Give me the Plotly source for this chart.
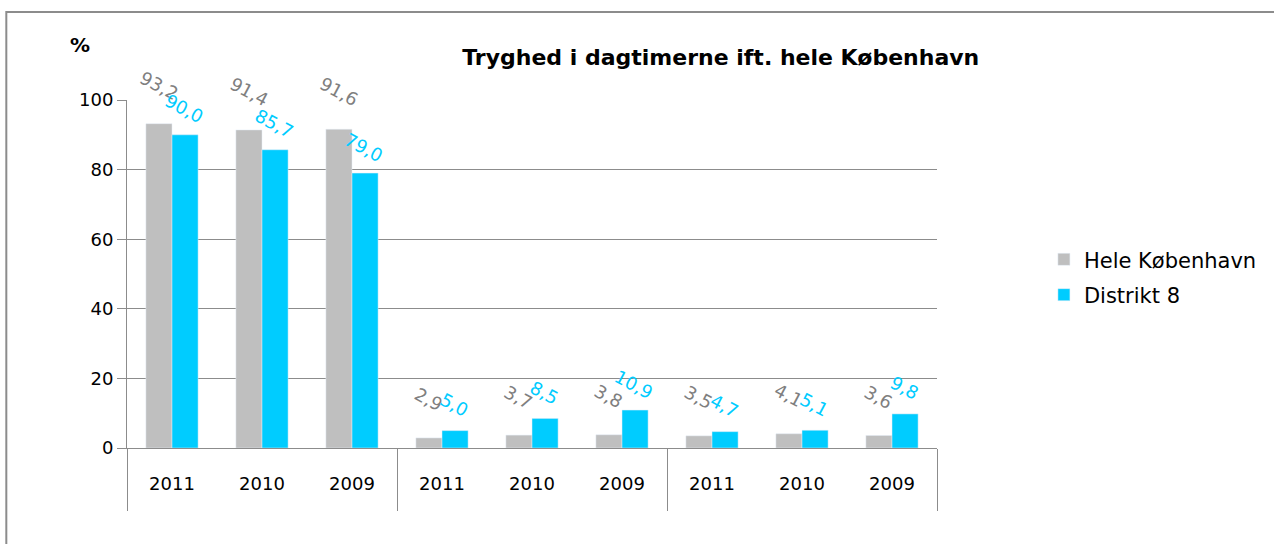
import numpy as np
import plotly.graph_objects as go

years = ['2011', '2010', '2009', '2011', '2010', '2009', '2011', '2010', '2009']
group_size = 3
hele_kbh = [93.2, 91.4, 91.6, 2.9, 3.7, 3.8, 3.5, 4.1, 3.6]
distrikt8 = [90.0, 85.7, 79.0, 5.0, 8.5, 10.9, 4.7, 5.1, 9.8]

grey = '#BFBFBF'
cyan = '#00CCFF'
line_col = '#8C8C8C'
font_name = 'DejaVu Sans'

x = np.arange(len(years))
bargap = 0.42
half = (1 - bargap) / 4  # centre offset of each bar inside a category

fig = go.Figure()
fig.add_trace(go.Bar(x=x, y=hele_kbh, name='Hele København',
                     marker_color=grey, legendgroup='a'))
fig.add_trace(go.Bar(x=x, y=distrikt8, name='Distrikt 8',
                     marker_color=cyan, legendgroup='b'))

# rotated value labels like the Excel original
for i in range(len(years)):
    fig.add_annotation(x=x[i] - half, y=hele_kbh[i], text=f'{hele_kbh[i]:.1f}'.replace('.', ','),
                       textangle=28, showarrow=False, yshift=38,
                       font=dict(family=font_name, size=18, color='#7F7F7F'))
    fig.add_annotation(x=x[i] + half, y=distrikt8[i], text=f'{distrikt8[i]:.1f}'.replace('.', ','),
                       textangle=28, showarrow=False, yshift=26, xshift=-1,
                       font=dict(family=font_name, size=18, color=cyan))

fig.add_annotation(xref='paper', yref='paper', x=-0.058, y=1.158, text='<b>%</b>',
                   xanchor='center', yanchor='middle', showarrow=False,
                   font=dict(family=font_name, size=20, color='black'))

# outer frame of the chart area
fig.add_shape(type='rect', xref='paper', yref='paper',
              x0=-0.149, x1=1.45, y0=-0.5, y1=1.253,
              line=dict(color=line_col, width=2))

group_edges = list(np.arange(0, len(years) + 1, group_size) - 0.5)

fig.update_layout(
    width=1274, height=544,
    margin=dict(l=127, r=337, t=100, b=96),
    paper_bgcolor='white', plot_bgcolor='white',
    barmode='group', bargap=bargap, bargroupgap=0,
    title=dict(text='<b>Tryghed i dagtimerne ift. hele København</b>',
               x=0.733, xref='paper', xanchor='center',
               y=1 - 57 / 544, yanchor='middle',
               font=dict(family=font_name, size=22, color='black')),
    legend=dict(x=1.132, y=0.6, xanchor='left', yanchor='top',
                font=dict(family=font_name, size=21, color='black'),
                tracegroupgap=5, bgcolor='rgba(0,0,0,0)'),
    font=dict(family=font_name, color='black'),
)
fig.update_xaxes(range=[-0.5, len(years) - 0.5],
                 tickmode='array', tickvals=x, ticktext=years, ticks='',
                 ticklabelstandoff=19,
                 tickfont=dict(family=font_name, size=18, color='black'),
                 showline=True, linecolor=line_col, linewidth=1, showgrid=False,
                 zeroline=False,
                 minor=dict(tickmode='array', tickvals=group_edges, ticks='outside',
                            ticklen=62, tickcolor=line_col, tickwidth=1, showgrid=False))
fig.update_yaxes(range=[0, 100], dtick=20, ticks='outside', ticklen=9,
                 tickcolor=line_col, showline=True, linecolor=line_col, linewidth=1,
                 showgrid=True, gridcolor=line_col, gridwidth=1, zeroline=False,
                 tickfont=dict(family=font_name, size=18, color='black'))

fig.write_html('out.html', config={'displayModeBar': False},
               post_script="document.body.style.margin='0';")
